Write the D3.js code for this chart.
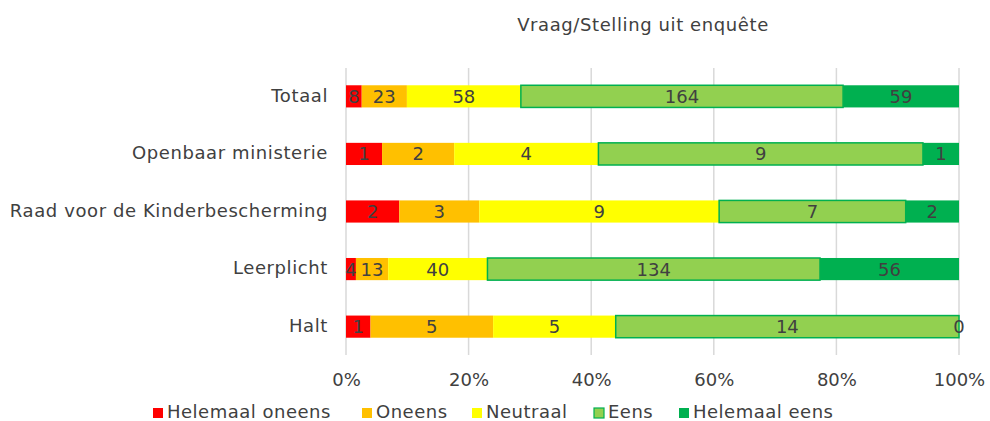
<!DOCTYPE html>
<html>
<head>
<meta charset="utf-8">
<script src="https://cdn.jsdelivr.net/npm/d3@7"></script>
<style>
  body { margin: 0; background: #fff; }
  svg text { font-family: "DejaVu Sans", Verdana, sans-serif; fill: #404040; }
</style>
</head>
<body>
<svg id="chart" width="990" height="421"></svg>
<script>
const categories = ['Totaal', 'Openbaar ministerie', 'Raad voor de Kinderbescherming', 'Leerplicht', 'Halt'];
const seriesNames = ['Helemaal oneens', 'Oneens', 'Neutraal', 'Eens', 'Helemaal eens'];
const helemaalOneens = [8, 1, 2, 4, 1];
const oneens = [23, 2, 3, 13, 5];
const neutraal = [58, 4, 9, 40, 5];
const eens = [164, 9, 7, 134, 14];
const helemaalEens = [59, 1, 2, 56, 0];
const tickValues = [0, 0.2, 0.4, 0.6, 0.8, 1];
const colors = ['#FF0000', '#FFC000', '#FFFF00', '#92D050', '#00B050'];

const SERIES = [helemaalOneens, oneens, neutraal, eens, helemaalEens];

const svg = d3.select('#chart');
const margin = {left: 346, right: 31, top: 68, bottom: 66};
const W = 990, H = 421;

const x = d3.scaleLinear().domain([0, 1]).range([margin.left, W - margin.right]);
const y = d3.scaleBand().domain(categories).range([margin.top, H - margin.bottom]).paddingInner(0.615).paddingOuter(0.3);

// title
svg.append('text')
  .attr('x', 643).attr('y', 31)
  .attr('text-anchor', 'middle')
  .attr('font-size', '18px')
  .attr('letter-spacing', '0.6px')
  .text('Vraag/Stelling uit enquête');

// gridlines
svg.append('g')
  .selectAll('line')
  .data(tickValues)
  .enter()
  .append('line')
  .attr('x1', d => x(d)).attr('x2', d => x(d))
  .attr('y1', margin.top).attr('y2', H - margin.bottom)
  .attr('stroke', '#d9d9d9')
  .attr('stroke-width', 1.5);

// x axis labels
const xAxis = svg.append('g')
  .attr('transform', 'translate(0,' + (H - margin.bottom) + ')')
  .call(d3.axisBottom(x).tickValues(tickValues).tickFormat(d3.format('.0%')).tickSize(0).tickPadding(18));
xAxis.select('.domain').remove();
xAxis.selectAll('text').attr('font-size', '18px').attr('font-family', null).attr('fill', null);

// category labels
svg.append('g')
  .selectAll('text')
  .data(categories)
  .enter()
  .append('text')
  .attr('x', margin.left - 18)
  .attr('y', d => y(d) + y.bandwidth() / 2)
  .attr('dy', '0.3em')
  .attr('text-anchor', 'end')
  .attr('font-size', '18px')
  .attr('letter-spacing', '0.6px')
  .text(d => d);

// stacked bars
const rows = categories.map(function(c, i) {
  const total = d3.sum(SERIES, s => s[i]);
  let start = 0;
  return SERIES.map(function(s, k) {
    const seg = {cat: c, k: k, value: s[i], x0: start / total, x1: (start + s[i]) / total};
    start += s[i];
    return seg;
  });
});
const segs = rows.flat();

svg.append('g')
  .selectAll('rect')
  .data(segs)
  .enter()
  .append('rect')
  .attr('x', d => x(d.x0))
  .attr('y', d => y(d.cat))
  .attr('width', d => x(d.x1) - x(d.x0))
  .attr('height', y.bandwidth())
  .attr('fill', d => colors[d.k])
  .attr('stroke', d => d.k === 3 ? '#00B050' : 'none')
  .attr('stroke-width', 1.5);

svg.append('g')
  .selectAll('text')
  .data(segs)
  .enter()
  .append('text')
  .attr('x', d => x((d.x0 + d.x1) / 2))
  .attr('y', d => y(d.cat) + y.bandwidth() / 2)
  .attr('dy', '0.36em')
  .attr('text-anchor', 'middle')
  .attr('font-size', '18px')
  .text(d => d.value);

// legend
const legendX = [153, 362, 472, 594, 679];
const legend = svg.append('g')
  .selectAll('g')
  .data(seriesNames)
  .enter()
  .append('g')
  .attr('transform', (d, i) => 'translate(' + legendX[i] + ',418)');
legend.append('rect')
  .attr('x', 0).attr('y', -10)
  .attr('width', 10).attr('height', 10)
  .attr('fill', (d, i) => colors[i])
  .attr('stroke', (d, i) => i === 3 ? '#00B050' : 'none')
  .attr('stroke-width', 1.2);
legend.append('text')
  .attr('x', 14).attr('y', 0)
  .attr('font-size', '18px')
  .attr('letter-spacing', '0.5px')
  .text(d => d);
</script>
</body>
</html>
